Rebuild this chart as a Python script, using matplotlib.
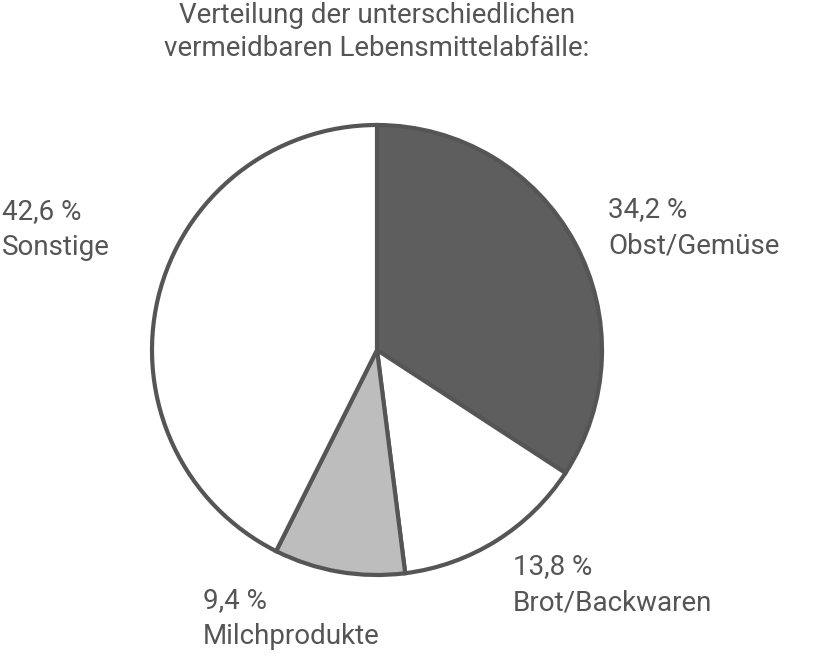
import matplotlib
matplotlib.use("Agg")
import matplotlib.pyplot as plt

categories = ["Obst/Gemüse", "Brot/Backwaren", "Milchprodukte", "Sonstige"]
values = [34.2, 13.8, 9.4, 42.6]
colors = ["#5e5e5e", "#ffffff", "#bdbdbd", "#ffffff"]
title = "Verteilung der unterschiedlichen\nvermeidbaren Lebensmittelabfälle:"

plt.rcParams['font.family'] = ['Roboto', 'DejaVu Sans']
tc = "#555555"
fig = plt.figure(figsize=(8.29, 6.66), dpi=100)
ax = fig.add_axes([0, 0, 1, 1])
cx, cy, r = 377, 350, 225
ax.pie(values, colors=colors, startangle=90, counterclock=False, radius=1,
       wedgeprops=dict(edgecolor="#555555", linewidth=3))
ax.set_aspect('equal')
ax.set_xlim(-cx / r, (829 - cx) / r)
ax.set_ylim(-(666 - cy) / r, cy / r)
ax.axis('off')

def px(x, y):
    return (x - cx) / r, (cy - y) / r

ax.text(*px(377, 2), title, ha='center', va='top', fontsize=20, color=tc, linespacing=1.3)
pos = [(608, 196), (513, 553), (203, 587), (2, 198)]
for (x, y), c, v in zip(pos, categories, values):
    ax.text(*px(x, y), f"{v:.1f} %".replace('.', ',') + "\n" + c, ha='left', va='top',
            fontsize=20, color=tc, linespacing=1.45)
fig.savefig("out.png", dpi=100)
